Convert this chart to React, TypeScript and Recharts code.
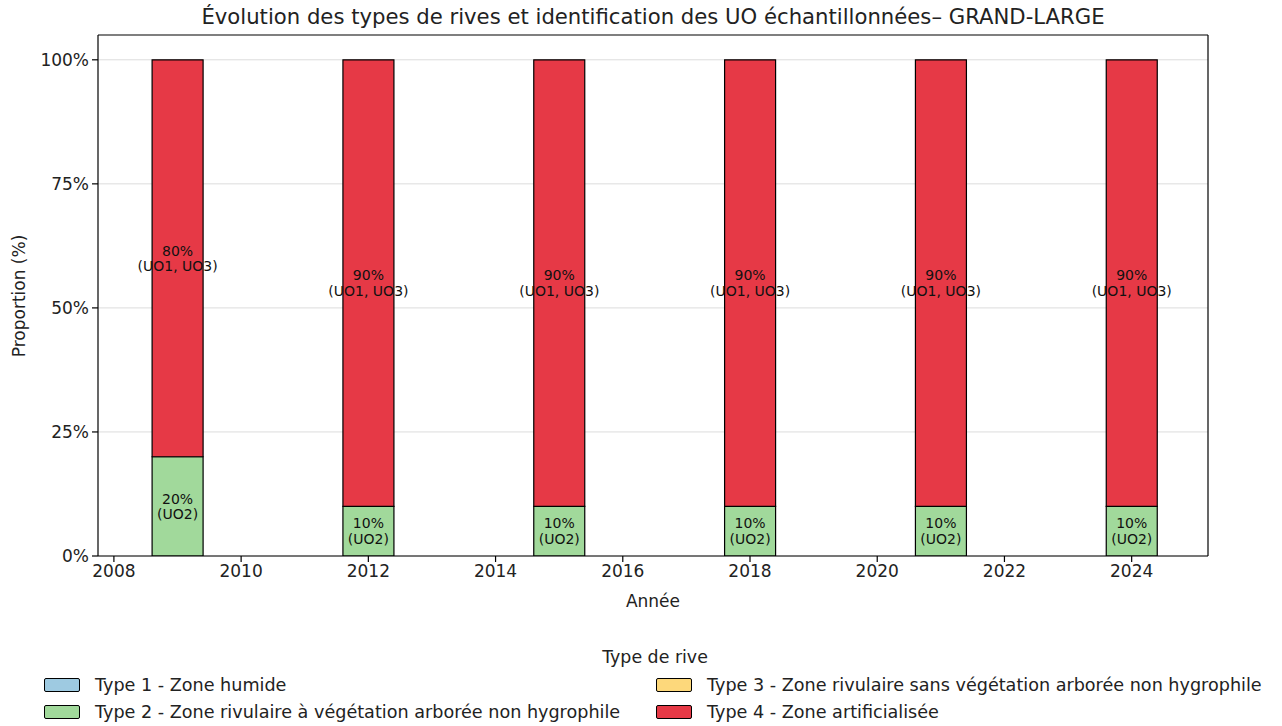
import React from "react";
import {
  ComposedChart,
  Bar,
  XAxis,
  YAxis,
  CartesianGrid,
  LabelList,
  ReferenceLine,
} from "recharts";

const years = [2009, 2012, 2015, 2018, 2021, 2024];
const type1 = [0, 0, 0, 0, 0, 0];
const type2 = [20, 10, 10, 10, 10, 10];
const type3 = [0, 0, 0, 0, 0, 0];
const type4 = [80, 90, 90, 90, 90, 90];
const uoType2 = ["UO2", "UO2", "UO2", "UO2", "UO2", "UO2"];
const uoType4 = ["UO1, UO3", "UO1, UO3", "UO1, UO3", "UO1, UO3", "UO1, UO3", "UO1, UO3"];
const xTicks = [2008, 2010, 2012, 2014, 2016, 2018, 2020, 2022, 2024];
const yTicks = [0, 25, 50, 75, 100];

const legendItems = [
  { label: "Type 1 - Zone humide", color: "#9ecae1" },
  { label: "Type 2 - Zone rivulaire à végétation arborée non hygrophile", color: "#a1d99b" },
  { label: "Type 3 - Zone rivulaire sans végétation arborée non hygrophile", color: "#fdd87b" },
  { label: "Type 4 - Zone artificialisée", color: "#e63946" },
];

const data = years.map((year, i) => ({
  year,
  t1: type1[i],
  t2: type2[i],
  t3: type3[i],
  t4: type4[i],
}));

const FONT = "DejaVu Sans, sans-serif";
const X_DOMAIN: [number, number] = [2007.75, 2025.2];
const Y_DOMAIN: [number, number] = [0, 105];
const PLOT_WIDTH = 1110;
const BAR_PX = Math.round((0.8 * PLOT_WIDTH) / (X_DOMAIN[1] - X_DOMAIN[0]));

const makeLabel = (uos: string[]) => (props: any) => {
  const { x, y, width, height, value, index } = props;
  if (!value) return null;
  const cx = Number(x) + Number(width) / 2;
  const cy = Number(y) + Number(height) / 2;
  return (
    <text
      x={cx}
      y={cy}
      textAnchor="middle"
      dominantBaseline="central"
      fontSize={14}
      fontFamily={FONT}
      fill="#111"
    >
      <tspan x={cx} dy="-0.55em">{`${value}%`}</tspan>
      <tspan x={cx} dy="1.1em">{`(${uos[index]})`}</tspan>
    </text>
  );
};

const tickStyle = { fontSize: 17, fill: "#222", fontFamily: FONT };

export default function App() {
  return (
    <div
      style={{
        position: "absolute",
        left: 0,
        top: 0,
        width: 1282,
        height: 726,
        background: "#fff",
        fontFamily: FONT,
        color: "#222",
      }}
    >
      {/* Title */}
      <div
        style={{
          position: "absolute",
          left: 98,
          width: 1110,
          top: 4,
          textAlign: "center",
          fontSize: 21.2,
          whiteSpace: "nowrap",
        }}
      >
        Évolution des types de rives et identification des UO échantillonnées– GRAND-LARGE
      </div>

      <ComposedChart
        width={1282}
        height={726}
        data={data}
        margin={{ top: 35, right: 74, bottom: 140, left: 38 }}
      >
        <CartesianGrid
          vertical={false}
          stroke="#dcdcdc"
          strokeWidth={1}
          horizontalValues={yTicks}
        />
        <XAxis
          dataKey="year"
          type="number"
          domain={X_DOMAIN}
          ticks={xTicks}
          allowDataOverflow
          height={30}
          tick={tickStyle}
          tickSize={6}
          tickMargin={3}
          axisLine={{ stroke: "#000", strokeWidth: 1.2 }}
          tickLine={{ stroke: "#000", strokeWidth: 1.2 }}
        />
        <YAxis
          type="number"
          domain={Y_DOMAIN}
          ticks={yTicks}
          allowDataOverflow
          width={60}
          tick={tickStyle}
          tickFormatter={(v) => `${v}%`}
          tickSize={6}
          tickMargin={3}
          axisLine={{ stroke: "#000", strokeWidth: 1.2 }}
          tickLine={{ stroke: "#000", strokeWidth: 1.2 }}
        />
        <Bar
          dataKey="t1"
          stackId="a"
          fill="#9ecae1"
          stroke="#000"
          strokeWidth={1.2}
          barSize={BAR_PX}
          isAnimationActive={false}
        />
        <Bar
          dataKey="t2"
          stackId="a"
          fill="#a1d99b"
          stroke="#000"
          strokeWidth={1.2}
          barSize={BAR_PX}
          isAnimationActive={false}
        >
          <LabelList dataKey="t2" content={makeLabel(uoType2)} />
        </Bar>
        <Bar
          dataKey="t3"
          stackId="a"
          fill="#fdd87b"
          stroke="#000"
          strokeWidth={1.2}
          barSize={BAR_PX}
          isAnimationActive={false}
        />
        <Bar
          dataKey="t4"
          stackId="a"
          fill="#e63946"
          stroke="#000"
          strokeWidth={1.2}
          barSize={BAR_PX}
          isAnimationActive={false}
        >
          <LabelList dataKey="t4" content={makeLabel(uoType4)} />
        </Bar>
        {/* Top and right spines */}
        <ReferenceLine y={Y_DOMAIN[1]} stroke="#000" strokeWidth={1.2} ifOverflow="visible" />
        <ReferenceLine x={X_DOMAIN[1]} stroke="#000" strokeWidth={1.2} ifOverflow="visible" />
      </ComposedChart>

      {/* Axis labels */}
      <div
        style={{
          position: "absolute",
          left: 98,
          width: 1110,
          top: 591,
          textAlign: "center",
          fontSize: 17,
        }}
      >
        Année
      </div>
      <div
        style={{
          position: "absolute",
          left: 19,
          top: 296,
          fontSize: 17,
          whiteSpace: "nowrap",
          transform: "translate(-50%, -50%) rotate(-90deg)",
        }}
      >
        Proportion (%)
      </div>

      {/* Legend */}
      <div
        style={{
          position: "absolute",
          left: 0,
          width: 1310,
          top: 647,
          textAlign: "center",
          fontSize: 17.4,
        }}
      >
        Type de rive
      </div>
      {legendItems.map((item, i) => {
        const col = i < 2 ? 0 : 1;
        const row = i % 2;
        return (
          <div
            key={item.label}
            style={{
              position: "absolute",
              left: col === 0 ? 44 : 656,
              top: 675 + row * 27,
              display: "flex",
              alignItems: "center",
              fontSize: 17.6,
              whiteSpace: "nowrap",
            }}
          >
            <span
              style={{
                display: "inline-block",
                width: 34,
                height: 12,
                background: item.color,
                border: "1.2px solid #000",
                borderRadius: 2,
                marginRight: 15,
              }}
            />
            {item.label}
          </div>
        );
      })}
    </div>
  );
}
